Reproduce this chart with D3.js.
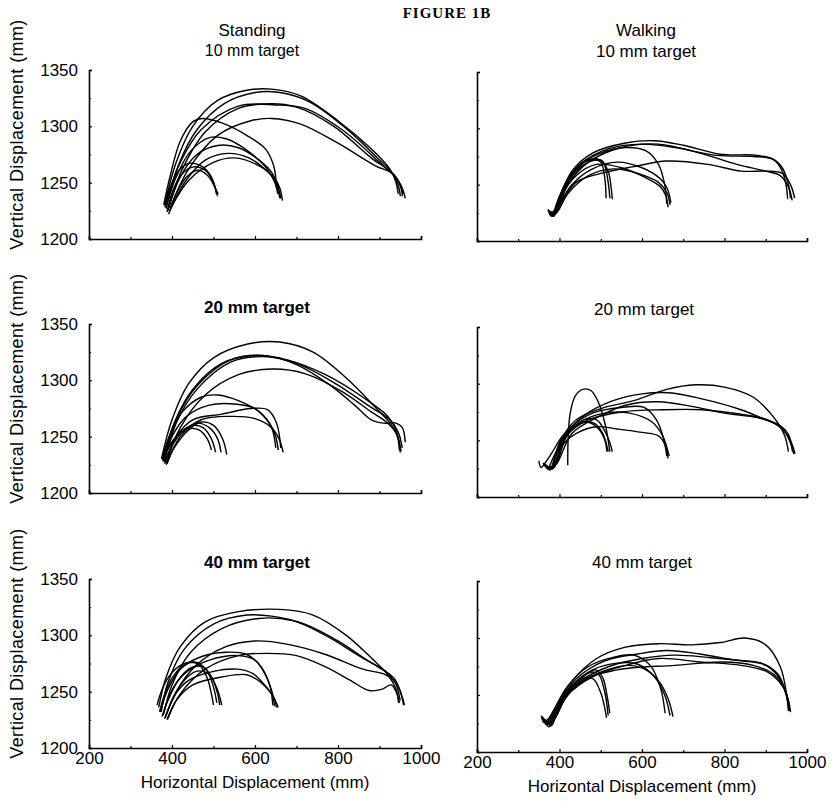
<!DOCTYPE html>
<html>
<head>
<meta charset="utf-8">
<script src="https://cdn.jsdelivr.net/npm/d3@7"></script>
<style>
  body { margin: 0; background: #fff; }
  svg { display: block; }
  text { font-family: "Liberation Sans", Arial, Helvetica, sans-serif; fill: #000; }
</style>
</head>
<body>
<svg id="figure" width="832" height="804"></svg>
<script>
// axis ticks
let xTicks = [200, 400, 600, 800, 1000];
let xMinor = [300, 500, 700, 900];
let yTicks = [1200, 1250, 1300, 1350];
let yMinor = [1225, 1275, 1325];

// trajectories [horizontal mm, vertical mm]
let standing10 = [
  [[383,1228],[395,1245],[415,1260],[440,1267],[470,1265],[492,1257],[503,1247],[507,1240]],
  [[388,1224],[402,1243],[425,1258],[452,1264],[480,1261],[498,1252],[506,1243],[510,1238]],
  [[392,1222],[410,1240],[435,1255],[462,1261],[487,1256],[502,1247],[511,1240]],
  [[380,1230],[395,1255],[420,1287],[450,1304],[475,1307],[520,1303],[580,1292],[625,1280],[645,1265],[652,1245]],
  [[385,1228],[410,1255],[445,1278],[490,1290],[530,1289],[580,1279],[625,1264],[648,1250],[655,1240]],
  [[390,1225],[420,1255],[460,1275],[510,1283],[560,1281],[610,1270],[642,1258],[656,1242],[660,1236]],
  [[395,1225],[430,1250],[480,1270],[535,1276],[585,1272],[630,1260],[652,1250],[662,1236]],
  [[398,1228],[440,1252],[500,1268],[550,1272],[610,1265],[645,1255],[660,1245],[666,1234]],
  [[382,1230],[410,1268],[450,1300],[510,1323],[580,1332],[640,1333],[710,1327],[800,1305],[880,1280],[925,1262],[940,1250],[945,1240]],
  [[386,1227],[415,1265],[460,1297],[525,1320],[600,1330],[660,1330],[730,1322],[820,1298],[895,1272],[932,1258],[947,1245],[950,1238]],
  [[390,1226],[425,1262],[480,1295],[560,1316],[640,1320],[700,1317],[790,1300],[880,1272],[935,1257],[952,1245],[955,1238]],
  [[396,1228],[440,1262],[510,1292],[590,1305],[640,1307],[710,1302],[800,1285],[890,1265],[932,1258],[950,1248],[958,1240]],
  [[385,1232],[420,1268],[470,1297],[560,1318],[650,1319],[720,1316],[810,1297],[900,1268],[945,1252],[958,1242],[962,1236]]
];

let walking10 = [
  [[372,1228],[380,1222],[395,1235],[420,1255],[450,1268],[480,1272],[500,1270],[510,1255],[513,1238]],
  [[375,1225],[385,1223],[400,1240],[430,1258],[460,1270],[490,1273],[508,1268],[518,1252],[522,1238]],
  [[378,1226],[390,1226],[410,1245],[440,1262],[470,1270],[500,1272],[518,1262],[525,1248],[528,1237]],
  [[376,1226],[388,1224],[410,1248],[450,1268],[500,1278],[560,1283],[610,1280],[640,1268],[655,1250],[660,1233]],
  [[374,1227],[386,1222],[405,1240],[440,1258],[490,1268],[550,1265],[610,1256],[645,1248],[658,1240],[663,1230]],
  [[378,1226],[392,1225],[420,1242],[470,1258],[530,1264],[590,1260],[640,1252],[660,1243],[668,1232]],
  [[380,1224],[395,1230],[430,1250],[480,1264],[540,1270],[600,1265],[645,1255],[662,1246],[670,1234]],
  [[373,1228],[385,1222],[400,1238],[430,1262],[480,1278],[560,1287],[630,1289],[700,1285],[790,1277],[880,1276],[920,1272],[940,1262],[950,1248],[953,1237]],
  [[376,1226],[390,1224],[410,1245],[450,1268],[520,1282],[600,1286],[680,1283],[780,1276],[870,1275],[915,1273],[940,1265],[955,1250],[960,1238]],
  [[379,1225],[394,1227],[420,1250],[470,1270],[550,1283],[640,1286],[740,1278],[830,1268],[900,1262],[935,1258],[955,1248],[964,1236]],
  [[382,1224],[400,1232],[440,1252],[500,1260],[580,1266],[660,1271],[760,1268],[840,1262],[900,1262],[940,1260],[960,1250],[970,1238]]
];

let standing20 = [
  [[375,1230],[390,1240],[410,1250],[440,1257],[465,1256],[485,1248],[495,1238]],
  [[378,1228],[395,1242],[420,1254],[450,1260],[475,1258],[495,1248],[505,1236]],
  [[382,1226],[400,1242],[430,1256],[460,1262],[490,1258],[510,1248],[518,1236]],
  [[386,1225],[405,1240],[440,1256],[470,1263],[500,1260],[522,1248],[532,1234]],
  [[376,1230],[395,1252],[425,1272],[470,1285],[510,1287],[560,1282],[610,1272],[640,1258],[650,1240]],
  [[380,1228],[400,1250],[435,1268],[490,1278],[550,1279],[600,1275],[635,1262],[650,1250],[656,1238]],
  [[384,1227],[410,1250],[450,1265],[520,1270],[590,1275],[630,1274],[652,1262],[662,1240]],
  [[388,1226],[420,1250],[470,1265],[540,1268],[600,1266],[640,1258],[658,1248],[668,1236]],
  [[375,1231],[400,1265],[440,1297],[500,1320],[580,1332],[660,1334],[740,1325],[820,1302],[890,1276],[930,1260],[945,1248],[950,1236]],
  [[378,1229],[405,1262],[450,1292],[520,1315],[600,1322],[680,1318],[770,1305],[860,1285],[920,1268],[940,1256],[948,1238]],
  [[382,1228],[410,1262],[460,1292],[540,1316],[620,1321],[700,1315],[790,1298],[880,1276],[925,1265],[945,1254],[955,1240]],
  [[386,1226],[420,1258],[480,1287],[560,1305],[640,1310],[720,1306],[810,1290],[880,1272],[920,1262],[942,1252],[952,1237]],
  [[380,1230],[410,1265],[460,1295],[540,1318],[620,1322],[700,1314],[780,1296],[840,1278],[880,1265],[910,1262],[940,1262],[955,1258],[962,1245]]
];

let walking20 = [
  [[420,1228],[421,1252],[426,1274],[438,1289],[456,1295],[476,1294],[495,1283],[512,1262],[522,1240]],
  [[360,1230],[372,1226],[385,1235],[410,1252],[440,1263],[470,1266],[495,1260],[510,1250],[515,1240]],
  [[365,1228],[378,1224],[395,1240],[425,1258],[460,1268],[490,1268],[510,1258],[522,1248],[528,1240]],
  [[350,1232],[355,1226],[365,1230],[380,1238],[410,1255],[450,1265],[485,1265],[505,1256],[518,1240]],
  [[362,1229],[376,1224],[395,1242],[430,1262],[480,1274],[550,1279],[605,1279],[635,1268],[652,1252],[660,1236]],
  [[368,1227],[382,1225],[405,1245],[440,1256],[490,1262],[540,1260],[600,1257],[640,1254],[656,1246],[663,1234]],
  [[372,1226],[386,1226],[410,1250],[450,1266],[510,1274],[570,1274],[625,1266],[650,1254],[666,1236]],
  [[365,1229],[380,1226],[400,1248],[440,1268],[500,1278],[580,1285],[660,1295],[730,1299],[800,1297],[870,1288],[920,1270],[945,1255],[955,1240]],
  [[368,1228],[384,1225],[410,1252],[460,1272],[530,1285],[600,1291],[665,1292],[740,1287],[840,1277],[900,1268],[935,1262],[955,1252],[968,1238]],
  [[370,1227],[388,1227],[420,1255],[470,1268],[550,1275],[650,1277],[745,1277],[840,1273],[905,1268],[945,1258],[962,1248],[971,1238]],
  [[374,1226],[392,1229],[430,1256],[490,1270],[560,1281],[640,1284],[720,1280],[800,1274],[880,1270],[930,1264],[955,1255],[965,1240]]
];

let standing40 = [
  [[364,1238],[372,1248],[390,1262],[415,1272],[440,1276],[465,1274],[485,1262],[495,1248],[500,1238]],
  [[370,1232],[380,1245],[400,1262],[430,1274],[460,1276],[485,1268],[500,1254],[508,1240]],
  [[376,1228],[390,1242],[415,1260],[445,1271],[475,1272],[497,1262],[510,1248],[515,1238]],
  [[382,1226],[398,1240],[425,1258],[458,1268],[487,1266],[507,1254],[520,1238]],
  [[372,1232],[390,1252],[420,1270],[470,1281],[530,1285],[580,1283],[615,1272],[636,1255],[643,1238]],
  [[378,1229],[398,1250],[430,1266],[490,1278],[560,1282],[600,1278],[625,1265],[641,1250],[647,1237]],
  [[384,1227],[405,1246],[440,1260],[500,1268],[556,1270],[595,1266],[625,1255],[645,1245],[652,1236]],
  [[388,1225],[410,1242],[450,1256],[520,1263],[580,1265],[615,1258],[640,1248],[656,1236]],
  [[368,1236],[385,1262],[420,1290],[480,1312],[560,1321],[660,1323],[740,1318],[820,1300],[880,1280],[920,1265],[940,1252],[946,1240]],
  [[374,1232],[390,1258],[430,1288],[500,1310],[580,1318],[640,1317],[720,1310],[800,1295],[870,1278],[915,1268],[938,1258],[950,1242]],
  [[380,1230],[400,1256],[445,1285],[520,1306],[610,1315],[690,1313],[770,1300],[850,1282],[905,1270],[935,1262],[952,1248],[958,1238]],
  [[385,1228],[410,1250],[460,1274],[530,1290],[600,1295],[680,1292],[770,1283],[860,1270],[915,1265],[940,1258],[955,1245],[960,1238]],
  [[390,1226],[420,1248],[480,1270],[560,1282],[630,1284],[700,1282],[770,1272],[830,1260],[875,1251],[905,1252],[928,1256],[940,1250],[948,1240]]
];

let walking40 = [
  [[356,1232],[362,1226],[375,1230],[400,1245],[430,1258],[460,1265],[482,1264],[500,1252],[510,1238],[514,1230]],
  [[360,1230],[368,1224],[382,1230],[410,1248],[445,1262],[475,1270],[495,1268],[510,1252],[518,1232]],
  [[364,1228],[374,1222],[390,1232],[420,1252],[455,1266],[488,1272],[505,1265],[515,1250],[522,1234]],
  [[358,1231],[370,1226],[385,1236],[420,1258],[470,1275],[530,1283],[580,1285],[620,1276],[645,1256],[656,1234]],
  [[362,1229],[376,1224],[392,1236],[430,1258],[480,1272],[540,1278],[590,1277],[630,1266],[655,1250],[668,1232]],
  [[366,1228],[380,1223],[398,1238],[440,1258],[500,1270],[566,1276],[610,1272],[645,1260],[665,1245],[675,1231]],
  [[360,1230],[372,1224],[390,1238],[430,1262],[490,1282],[560,1292],[640,1295],[720,1294],[790,1296],[850,1300],[900,1294],[935,1275],[950,1252],[955,1236]],
  [[364,1229],[378,1224],[396,1240],[440,1264],[510,1280],[590,1286],[660,1289],[740,1286],[820,1281],[890,1278],[930,1268],[948,1252],[956,1238]],
  [[368,1227],[382,1226],[402,1242],[450,1262],[520,1275],[600,1282],[680,1285],[760,1283],[840,1280],[900,1276],[935,1264],[952,1248],[958,1236]],
  [[372,1226],[386,1228],[410,1246],[470,1265],[540,1272],[583,1274],[680,1276],[794,1279],[870,1276],[920,1268],[945,1256],[958,1240]],
  [[375,1225],[390,1230],[420,1250],[480,1266],[560,1276],[640,1282],[740,1279],[840,1276],[905,1270],[940,1258],[955,1245],[960,1235]]
];

let svg = d3.select('#figure');

// panel frames (pixel boxes)
let panels = [
  { data: standing10, x0: 89, x1: 421, yb: 239, yt: 70, left: true, bottom: false,
    titles: [{ t: 'Standing', y: 36, size: 17 }, { t: '10 mm target', y: 56, size: 16 }], tx: 252 },
  { data: walking10, x0: 477, x1: 807, yb: 241, yt: 72, left: false, bottom: false,
    titles: [{ t: 'Walking', y: 36, size: 17 }, { t: '10 mm target', y: 57, size: 17 }], tx: 646 },
  { data: standing20, x0: 89, x1: 421, yb: 493, yt: 324, left: true, bottom: false,
    titles: [{ t: '20 mm target', y: 313, size: 17, bold: true }], tx: 257 },
  { data: walking20, x0: 477, x1: 807, yb: 497, yt: 327, left: false, bottom: false,
    titles: [{ t: '20 mm target', y: 315, size: 17 }], tx: 644 },
  { data: standing40, x0: 89, x1: 421, yb: 748, yt: 579, left: true, bottom: true,
    titles: [{ t: '40 mm target', y: 568, size: 17, bold: true }], tx: 257 },
  { data: walking40, x0: 477, x1: 807, yb: 752, yt: 581, left: false, bottom: true,
    titles: [{ t: '40 mm target', y: 568, size: 17 }], tx: 642 }
];

svg.append('text')
  .attr('x', 447)
  .attr('y', 18)
  .attr('text-anchor', 'middle')
  .style('font-family', '"Liberation Serif", "Times New Roman", serif')
  .style('font-weight', 'bold')
  .style('font-size', '15px')
  .style('letter-spacing', '1px')
  .text('FIGURE 1B');

for (let p of panels) {
  let xScale = d3.scaleLinear().domain([200, 1000]).range([p.x0, p.x1]);
  let yScale = d3.scaleLinear().domain([1200, 1350]).range([p.yb, p.yt]);

  let g = svg.append('g');

  // minor ticks
  g.append('g')
    .attr('transform', `translate(0,${p.yb})`)
    .call(d3.axisBottom(xScale).tickValues(xMinor).tickSize(-2).tickSizeOuter(0).tickFormat(''))
    .call(a => a.select('.domain').remove());
  g.append('g')
    .attr('transform', `translate(${p.x0},0)`)
    .call(d3.axisLeft(yScale).tickValues(yMinor).tickSize(-2).tickSizeOuter(0).tickFormat(''))
    .call(a => a.select('.domain').remove());

  g.append('g')
    .attr('class', 'x-axis')
    .attr('transform', `translate(0,${p.yb})`)
    .call(d3.axisBottom(xScale).tickValues(xTicks).tickSize(-3).tickSizeOuter(-3).tickPadding(4)
      .tickFormat(p.bottom ? d3.format('d') : ''));

  g.append('g')
    .attr('class', 'y-axis')
    .attr('transform', `translate(${p.x0},0)`)
    .call(d3.axisLeft(yScale).tickValues(yTicks).tickSize(-3).tickSizeOuter(-3).tickPadding(11)
      .tickFormat(p.left ? d3.format('d') : ''));

  g.selectAll('.domain').attr('stroke-width', 1.6);
  g.selectAll('.tick line').attr('stroke-width', 1.2);
  g.selectAll('.tick text')
    .style('font-family', '"Liberation Sans", Arial, sans-serif')
    .style('font-size', '17px')
    .attr('fill', '#000');

  g.selectAll('.trajectory')
    .data(p.data)
    .enter()
    .append('path')
    .attr('class', 'trajectory')
    .attr('fill', 'none')
    .attr('stroke', '#000')
    .attr('stroke-width', 1.4)
    .attr('stroke-linejoin', 'round')
    .attr('d', d3.line()
      .x(d => xScale(d[0]))
      .y(d => yScale(d[1]))
      .curve(d3.curveCatmullRom.alpha(0.5)));

  for (let t of p.titles) {
    g.append('text')
      .attr('x', p.tx)
      .attr('y', t.y)
      .attr('text-anchor', 'middle')
      .style('font-size', t.size + 'px')
      .style('font-weight', t.bold ? 'bold' : 'normal')
      .text(t.t);
  }

  if (p.left) {
    let cy = (p.yb + p.yt) / 2 - 20;
    g.append('text')
      .attr('transform', `translate(23,${cy}) rotate(-90)`)
      .attr('text-anchor', 'middle')
      .style('font-size', '18px')
      .style('letter-spacing', '0.4px')
      .text('Vertical Displacement (mm)');
  }

  if (p.bottom) {
    g.append('text')
      .attr('x', (p.x0 + p.x1) / 2)
      .attr('y', p.yb + 40)
      .attr('text-anchor', 'middle')
      .style('font-size', '17px')
      .text('Horizontal Displacement (mm)');
  }
}
</script>
</body>
</html>
